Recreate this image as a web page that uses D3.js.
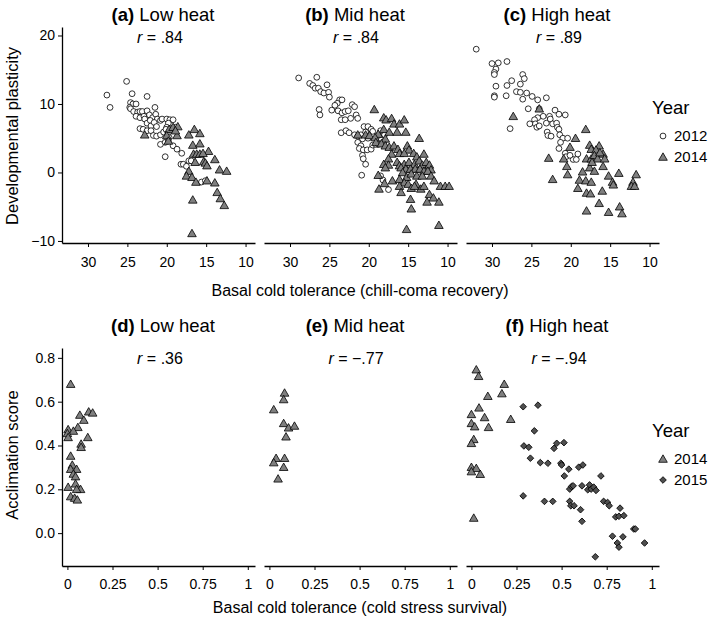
<!DOCTYPE html>
<html><head><meta charset="utf-8">
<script src="https://cdn.jsdelivr.net/npm/d3@7"></script>
<style>body{margin:0;background:#fff}svg{font-family:"Liberation Sans",Arial,Helvetica,sans-serif}</style>
</head><body><svg id="c" width="709" height="617"></svg>
<script>
// ---------- data ----------
const topLetters = ["(a)", "(b)", "(c)"];
const botLetters = ["(d)", "(e)", "(f)"];
const heatNames = ["Low heat", "Mid heat", "High heat"];
const topR = [".84", ".84", ".89"];
const botR = [".36", "\u2212.77", "\u2212.94"];
const topXTicks = [30, 25, 20, 15, 10];
const topYTicks = [20, 10, 0, -10];
const botXTicks = [0, 0.25, 0.5, 0.75, 1];
const botXTickLabels = ["0", "0.25", "0.5", "0.75", "1"];
const botYTicks = [0, 0.2, 0.4, 0.6, 0.8];
const topYears = ["2012", "2014"];
const botYears = ["2014", "2015"];

// panel (a) low heat: [chill-coma recovery, developmental plasticity]
const a2012 = [[25.1,13.3],[27.6,11.3],[27.2,9.5],[24.4,11.5],[22.5,11.1],[24.6,10.2],[24.3,10.0],[23.9,10.0],[24.7,9.5],[24.6,9.3],[24.2,8.9],[23.7,8.8],[23.4,8.9],[23.1,8.9],[23.9,8.2],[23.4,8.0],[22.9,8.2],[22.5,9.0],[22.2,8.4],[21.8,8.0],[21.5,9.5],[21.4,8.5],[21.2,7.8],[22.8,7.8],[22.5,7.2],[22.1,7.6],[22.0,6.8],[21.6,7.3],[21.3,6.7],[20.8,7.6],[20.6,7.8],[20.0,7.8],[19.6,7.7],[19.2,7.7],[19.8,7.2],[20.0,6.6],[19.4,6.4],[18.9,6.6],[23.4,6.4],[23.0,6.3],[22.5,6.1],[22.0,6.1],[21.7,5.4],[21.3,5.3],[20.8,5.5],[20.4,5.9],[20.1,6.3],[19.9,5.5],[19.7,5.1],[20.8,4.1],[20.2,4.4],[19.8,4.6],[19.2,3.9],[18.7,3.4],[18.1,2.8],[20.2,2.3],[18.2,1.2],[17.9,1.2],[17.5,0.9],[17.2,1.7],[16.9,1.7],[15.6,-1.4],[15.1,-1.2]];
const a2014 = [[22.8,5.5],[19.7,6.3],[19.2,6.6],[18.6,6.7],[20.0,5.4],[19.8,4.6],[17.2,5.5],[16.5,6.3],[15.8,5.7],[16.7,4.0],[15.8,4.2],[14.7,3.1],[16.6,2.7],[16.2,2.7],[15.8,2.7],[15.4,2.8],[16.4,1.5],[15.3,1.6],[15.1,1.4],[14.9,1.0],[13.9,1.9],[13.3,0.4],[12.4,0.2],[17.2,0.2],[17.5,-0.5],[16.8,-0.7],[16.3,-1.4],[14.9,-1.2],[13.9,-1.5],[13.6,-2.9],[13.2,-3.8],[12.7,-4.8],[16.7,-4.0],[16.8,-8.9],[18.7,5.4],[18.9,6.1]];
// panel (b) mid heat
const b2012 = [[28.9,13.8],[26.6,13.9],[27.5,13.0],[27.1,12.7],[26.8,12.3],[26.4,12.3],[26.1,11.8],[25.7,11.6],[25.3,12.8],[25.1,11.7],[25.0,11.0],[23.7,10.6],[23.4,10.6],[24.0,10.1],[24.3,9.8],[24.7,9.1],[23.9,9.0],[23.4,8.7],[23.0,8.9],[22.6,9.0],[22.1,9.9],[21.8,9.6],[22.3,7.9],[21.6,8.4],[21.4,7.9],[26.3,9.2],[26.2,8.4],[23.5,7.7],[23.0,7.7],[23.5,5.8],[22.9,6.1],[22.5,5.8],[21.8,5.5],[21.4,5.3],[21.0,5.5],[20.6,6.7],[20.1,6.7],[19.7,6.3],[19.5,6.0],[20.4,5.9],[20.8,4.9],[20.1,5.0],[21.4,4.4],[21.0,3.9],[21.2,3.5],[20.7,3.3],[20.2,3.3],[19.7,3.4],[19.5,4.0],[19.1,4.1],[18.8,4.1],[18.5,4.9],[18.1,4.5],[18.0,5.5],[18.8,5.4],[18.5,6.1],[20.8,2.5],[20.7,2.0],[20.4,1.2],[20.9,-0.4],[18.5,-0.5],[18.2,-1.1],[17.5,-2.5]];
const b2014 = [[19.3,9.2],[18.1,8.0],[17.8,7.7],[17.1,7.9],[16.8,7.1],[16.1,7.1],[15.5,7.7],[18.1,6.3],[18.8,5.6],[17.4,5.9],[16.4,5.9],[15.3,5.9],[13.6,5.0],[21.4,5.5],[20.4,5.5],[19.9,5.4],[19.2,5.1],[17.9,4.9],[19.1,4.4],[18.4,4.2],[17.9,3.9],[17.4,3.7],[16.8,3.9],[16.3,3.4],[15.1,3.9],[14.9,3.3],[17.1,2.7],[16.1,2.8],[15.5,2.8],[14.3,2.8],[13.9,2.3],[13.0,2.7],[17.5,2.0],[18.1,1.2],[17.5,1.1],[17.9,0.7],[16.4,1.5],[16.1,1.0],[15.5,1.2],[14.9,1.5],[14.2,1.2],[13.6,1.7],[13.2,1.1],[12.7,1.5],[12.3,1.1],[12.1,0.4],[15.9,0.7],[15.3,0.5],[14.7,0.5],[14.1,0.5],[13.5,0.5],[13.0,0.2],[12.5,0.2],[15.7,0.0],[15.2,-0.7],[14.6,-0.2],[13.9,-0.5],[13.2,-0.5],[12.1,-0.5],[11.7,-1.2],[10.9,-2.0],[10.3,-2.0],[9.8,-2.0],[18.8,-0.4],[18.0,-1.6],[18.7,-2.4],[17.0,-1.2],[16.1,-1.0],[15.5,-1.5],[15.0,-1.7],[14.0,-1.7],[13.4,-2.4],[14.6,-2.3],[14.2,-2.0],[13.0,-2.0],[12.3,-3.2],[11.8,-3.7],[12.6,-4.3],[11.1,-4.3],[14.7,-3.9],[14.6,-5.3],[15.2,-8.3],[11.1,-7.7],[16.1,-2.0],[15.9,-2.9]];
// panel (c) high heat
const c2012 = [[32.0,18.0],[30.0,15.9],[29.2,16.0],[29.5,15.1],[28.1,16.2],[29.7,14.6],[29.7,14.3],[29.5,12.6],[28.1,12.7],[27.5,13.4],[26.4,12.9],[26.1,14.3],[25.9,13.7],[29.7,11.2],[29.7,11.0],[28.2,11.2],[26.9,11.8],[26.4,11.7],[26.1,10.7],[25.6,11.6],[24.9,11.1],[24.2,10.6],[23.1,10.9],[25.4,9.3],[24.0,9.3],[23.5,8.2],[24.2,8.0],[24.6,7.7],[24.5,7.1],[24.3,6.6],[25.2,7.1],[24.0,6.8],[27.7,6.4],[23.1,7.2],[22.7,8.2],[22.6,7.8],[22.0,9.1],[21.5,8.5],[20.7,8.4],[22.3,7.1],[21.8,7.2],[21.7,6.6],[21.5,6.3],[23.0,5.9],[22.9,5.4],[22.5,5.3],[21.4,5.5],[21.0,5.0],[20.4,5.0],[21.5,3.5],[20.7,2.8],[20.6,2.3],[19.7,1.9],[19.3,1.9],[20.1,2.5],[19.1,2.7],[21.3,4.4]];
const c2014 = [[27.3,8.2],[24.0,9.3],[18.1,6.3],[19.4,5.0],[20.1,3.7],[17.6,4.0],[16.4,3.9],[17.4,3.4],[16.8,3.3],[15.9,2.7],[18.0,2.0],[17.4,2.0],[17.0,2.5],[16.6,2.0],[16.3,2.9],[15.7,2.0],[22.8,2.1],[20.9,2.0],[20.5,0.9],[20.4,-0.3],[22.3,-1.0],[18.5,0.1],[17.6,0.7],[17.3,1.5],[17.0,0.2],[15.9,0.9],[18.9,-1.1],[18.1,-1.2],[17.4,-1.4],[19.1,-2.3],[16.0,-2.7],[18.0,-3.0],[17.5,-3.1],[15.2,-0.5],[13.9,-0.1],[14.7,-1.4],[14.6,-1.8],[11.7,-0.3],[12.1,-1.4],[12.3,-2.0],[11.9,-2.0],[16.4,-4.5],[18.0,-5.6],[15.2,-5.8],[13.8,-5.0],[13.5,-6.0]];
// panel (d) low heat: [cold stress survival, acclimation score]
const d2014 = [[0.018,0.68],[0.069,0.539],[0.118,0.554],[0.14,0.549],[0.091,0.516],[0.058,0.483],[0.004,0.473],[0.033,0.466],[0.0,0.455],[0.004,0.437],[0.113,0.437],[0.076,0.407],[0.076,0.392],[0.018,0.352],[0.027,0.311],[0.051,0.292],[0.018,0.292],[0.033,0.27],[0.045,0.258],[0.004,0.21],[0.045,0.225],[0.073,0.2],[0.051,0.2],[0.018,0.167],[0.04,0.16],[0.055,0.152]];
// panel (e) mid heat
const e2014 = [[0.084,0.64],[0.079,0.61],[0.024,0.564],[0.079,0.501],[0.106,0.481],[0.139,0.489],[0.092,0.44],[0.037,0.342],[0.084,0.342],[0.024,0.322],[0.079,0.301],[0.048,0.248]];
// panel (f) high heat
const f2014 = [[0.027,0.746],[0.04,0.716],[0.182,0.68],[0.169,0.637],[0.091,0.625],[0.042,0.572],[0.0,0.542],[0.073,0.528],[0.218,0.52],[0.0,0.501],[0.018,0.486],[0.095,0.483],[0.013,0.428],[0.0,0.41],[0.0,0.301],[0.027,0.296],[0.0,0.281],[0.049,0.269],[0.013,0.069]];
const f2015 = [[0.287,0.577],[0.369,0.584],[0.349,0.467],[0.291,0.398],[0.318,0.392],[0.327,0.342],[0.382,0.322],[0.424,0.319],[0.458,0.387],[0.473,0.41],[0.513,0.413],[0.496,0.319],[0.5,0.311],[0.515,0.261],[0.54,0.292],[0.595,0.301],[0.618,0.311],[0.718,0.261],[0.545,0.201],[0.555,0.213],[0.564,0.216],[0.613,0.216],[0.655,0.22],[0.645,0.198],[0.664,0.201],[0.678,0.21],[0.691,0.195],[0.287,0.17],[0.405,0.145],[0.451,0.145],[0.545,0.145],[0.551,0.125],[0.569,0.125],[0.605,0.107],[0.613,0.054],[0.733,0.145],[0.755,0.14],[0.764,0.125],[0.824,0.114],[0.8,0.074],[0.818,0.077],[0.845,0.08],[0.782,-0.014],[0.809,-0.045],[0.818,-0.064],[0.84,-0.017],[0.9,0.019],[0.909,0.019],[0.96,-0.045],[0.687,-0.108]];

// ---------- layout ----------
const svg = d3.select("#c");
const PX0 = [62, 264, 466], PW = 193;
const TOP = {y0: 27, y1: 243}, BOT = {y0: 348, y1: 566};
const triFill = "#7f7f7f", diaFill = "#4f4f4f";
const triangle = d3.symbol().type(d3.symbolTriangle).size(32);
const diamond = d3.symbol().type(d3.symbolSquare).size(22);

function drawPoints(g, data, x, y, kind) {
  const sel = g.selectAll(null).data(data).enter();
  if (kind === "circle") {
    sel.append("circle").attr("cx", d => x(d[0])).attr("cy", d => y(d[1])).attr("r", 2.9)
      .attr("fill", "#fff").attr("stroke", "#000").attr("stroke-width", 0.8);
  } else if (kind === "tri") {
    sel.append("path").attr("d", triangle)
      .attr("transform", d => `translate(${x(d[0])},${y(d[1]) + 0.8})`)
      .attr("fill", triFill).attr("stroke", "#000").attr("stroke-width", 0.8);
  } else {
    sel.append("path").attr("d", diamond)
      .attr("transform", d => `translate(${x(d[0])},${y(d[1])}) rotate(45)`)
      .attr("fill", diaFill).attr("stroke", "#000").attr("stroke-width", 0.8);
  }
}

function title(x, y, letter, name) {
  const t = svg.append("text").attr("x", x).attr("y", y).attr("text-anchor", "middle")
    .attr("font-size", 18.5).attr("fill", "#000");
  t.append("tspan").attr("font-weight", "bold").text(letter);
  t.append("tspan").text(" " + name);
}
function rlabel(x, y, val) {
  const t = svg.append("text").attr("x", x).attr("y", y).attr("text-anchor", "middle")
    .attr("font-size", 16).attr("fill", "#000");
  t.append("tspan").attr("font-style", "italic").text("r");
  t.append("tspan").text(" = " + val);
}

const topData = [[a2012, a2014], [b2012, b2014], [c2012, c2014]];
const botData = [[d2014, null], [e2014, null], [f2014, f2015]];
const titleCx = [163, 355, 557];
const rCx = [160, 356, 559];

function styleAxis(g) {
  g.selectAll("path.domain").attr("stroke", "#000").attr("stroke-width", 1.3);
  g.selectAll(".tick line").attr("stroke", "#000").attr("stroke-width", 1);
  g.selectAll(".tick text").attr("fill", "#000").attr("font-size", 14)
    .attr("font-family", "Liberation Sans, Arial, sans-serif");
}

// top row
topData.forEach((ds, i) => {
  const x = d3.scaleLinear().domain([33.3, 8.8]).range([PX0[i], PX0[i] + PW]);
  const y = d3.scaleLinear().domain([-10.3, 21.24]).range([TOP.y1, TOP.y0]);
  const gx = svg.append("g").attr("transform", `translate(0,${TOP.y1})`)
    .call(d3.axisBottom(x).tickValues(topXTicks).tickSize(4).tickSizeOuter(0).tickPadding(10));
  styleAxis(gx);
  if (i === 0) {
    const gy = svg.append("g").attr("transform", `translate(${PX0[i]},0)`)
      .call(d3.axisLeft(y).tickValues(topYTicks).tickSize(4).tickSizeOuter(0).tickPadding(3)
        .tickFormat(d => d < 0 ? "\u2212" + Math.abs(d) : d));
    styleAxis(gy);
  }
  const g = svg.append("g");
  drawPoints(g, ds[0], x, y, "circle");
  drawPoints(g, ds[1], x, y, "tri");
  title(titleCx[i], 21, topLetters[i], heatNames[i]);
  rlabel(rCx[i], 43, topR[i]);
});

// bottom row
botData.forEach((ds, i) => {
  const x = d3.scaleLinear().domain([-0.03, 1.04]).range([PX0[i], PX0[i] + PW]);
  const y = d3.scaleLinear().domain([-0.15, 0.845]).range([BOT.y1, BOT.y0]);
  const gx = svg.append("g").attr("transform", `translate(0,${BOT.y1})`)
    .call(d3.axisBottom(x).tickValues(botXTicks).tickSize(4).tickSizeOuter(0).tickPadding(9)
      .tickFormat((d, k) => botXTickLabels[k]));
  styleAxis(gx);
  if (i === 0) {
    const gy = svg.append("g").attr("transform", `translate(${PX0[i]},0)`)
      .call(d3.axisLeft(y).tickValues(botYTicks).tickSize(4).tickSizeOuter(0).tickPadding(3)
        .tickFormat(d3.format(".1f")));
    styleAxis(gy);
  }
  const g = svg.append("g");
  drawPoints(g, ds[0], x, y, "tri");
  if (ds[1]) drawPoints(g, ds[1], x, y, "diamond");
  title(titleCx[i], 332, botLetters[i], heatNames[i]);
  rlabel(rCx[i], 364, botR[i]);
});

// axis titles
svg.append("text").attr("x", 360).attr("y", 296).attr("text-anchor", "middle").attr("font-size", 16)
  .text("Basal cold tolerance (chill-coma recovery)");
svg.append("text").attr("x", 360).attr("y", 613).attr("text-anchor", "middle").attr("font-size", 16)
  .text("Basal cold tolerance (cold stress survival)");
svg.append("text").attr("transform", "translate(18,136) rotate(-90)").attr("text-anchor", "middle")
  .attr("font-size", 16.5).text("Developmental plasticity");
svg.append("text").attr("transform", "translate(18,455) rotate(-90)").attr("text-anchor", "middle")
  .attr("font-size", 16.5).text("Acclimation score");

// legends
function legend(y0, years, kinds) {
  svg.append("text").attr("x", 652).attr("y", y0).attr("font-size", 18.5).text("Year");
  years.forEach((yr, k) => {
    const cy = y0 + 22 + k * 21;
    const g = svg.append("g");
    const id = v => v;
    drawPoints(g, [[663, cy]], id, id, kinds[k]);
    svg.append("text").attr("x", 674).attr("y", cy + 5).attr("font-size", 15).text(yr);
  });
}
legend(114, topYears, ["circle", "tri"]);
legend(437, botYears, ["tri", "diamond"]);
</script></body></html>
